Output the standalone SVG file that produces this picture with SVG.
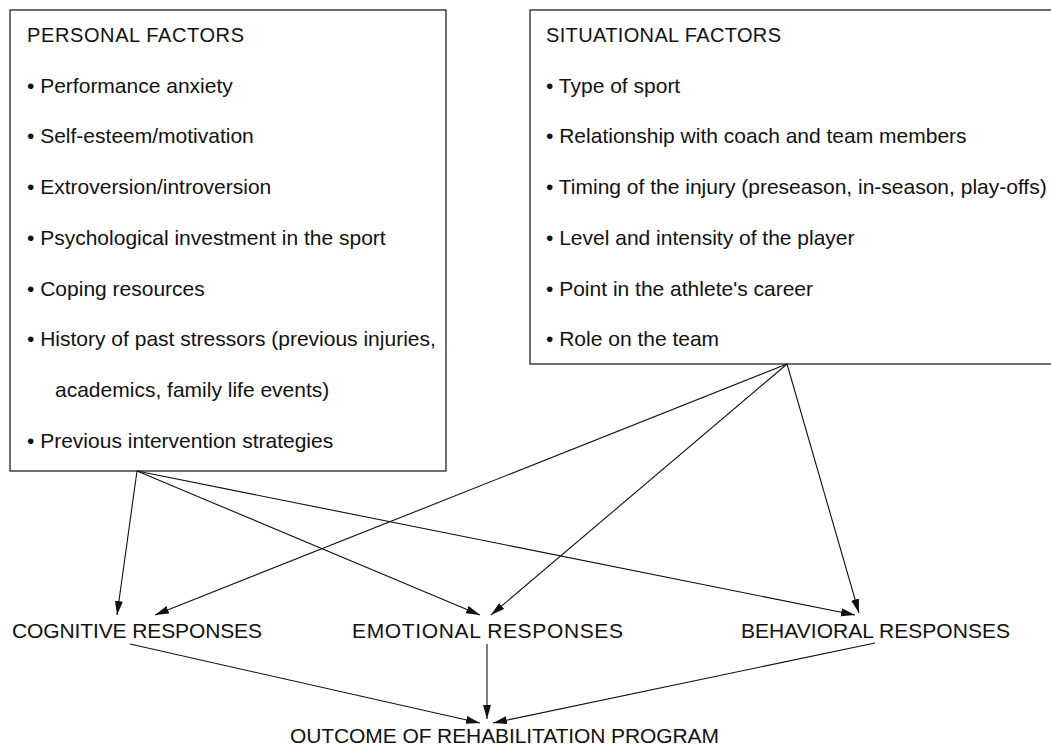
<svg xmlns="http://www.w3.org/2000/svg" width="1051" height="747" viewBox="0 0 1051 747">
<defs>
<style>
.box{fill:#fff;stroke:#222;stroke-width:1.3}
text{font-family:"Liberation Sans",Arial,sans-serif;fill:#111}
.t{font-size:20px}
.b{font-size:21px}
.l{font-size:21px}
.c{stroke:#111;stroke-width:1.1;fill:none;marker-end:url(#ah)}
</style>
<marker id="ah" markerUnits="userSpaceOnUse" markerWidth="15" markerHeight="10" refX="14" refY="4" orient="auto">
<path d="M0,0 L14,4 L0,8 Z" fill="#111"/>
</marker>
</defs>
<rect width="1051" height="747" fill="#fff"/>
<g id="personal">
<rect class="box" x="10" y="10" width="436" height="461"/>
<text class="t" x="27" y="42" textLength="217" lengthAdjust="spacing">PERSONAL FACTORS</text>
<text class="b" x="27" y="93">• Performance anxiety</text>
<text class="b" x="27" y="143">• Self-esteem/motivation</text>
<text class="b" x="27" y="194">• Extroversion/introversion</text>
<text class="b" x="27" y="245">• Psychological investment in the sport</text>
<text class="b" x="27" y="296">• Coping resources</text>
<text class="b" x="27" y="346">• History of past stressors (previous injuries,</text>
<text class="b" x="55" y="397">academics, family life events)</text>
<text class="b" x="27" y="448">• Previous intervention strategies</text>
</g>
<g id="situational">
<rect class="box" x="530" y="10" width="540" height="354"/>
<text class="t" x="546" y="42" textLength="235" lengthAdjust="spacing">SITUATIONAL FACTORS</text>
<text class="b" x="546" y="93">• Type of sport</text>
<text class="b" x="546" y="143">• Relationship with coach and team members</text>
<text class="b" x="546" y="194">• Timing of the injury (preseason, in-season, play-offs)</text>
<text class="b" x="546" y="245">• Level and intensity of the player</text>
<text class="b" x="546" y="296">• Point in the athlete's career</text>
<text class="b" x="546" y="346">• Role on the team</text>
</g>
<g id="cognitive">
<text class="l" x="12" y="638" textLength="250" lengthAdjust="spacing">COGNITIVE RESPONSES</text>
</g>
<g id="emotional">
<text class="l" x="352" y="638" textLength="271" lengthAdjust="spacing">EMOTIONAL RESPONSES</text>
</g>
<g id="behavioral">
<text class="l" x="741" y="638" textLength="269" lengthAdjust="spacing">BEHAVIORAL RESPONSES</text>
</g>
<g id="outcome">
<text class="l" x="290" y="743" textLength="429" lengthAdjust="spacing">OUTCOME OF REHABILITATION PROGRAM</text>
</g>
<g id="connectors">
<line class="c" x1="137" y1="471" x2="117" y2="615"/>
<line class="c" x1="787" y1="364" x2="155" y2="615"/>
<line class="c" x1="137" y1="471" x2="480" y2="615"/>
<line class="c" x1="787" y1="364" x2="491" y2="615"/>
<line class="c" x1="137" y1="471" x2="855" y2="615"/>
<line class="c" x1="787" y1="364" x2="859" y2="613"/>
<line class="c" x1="130" y1="644" x2="480" y2="723"/>
<line class="c" x1="487" y1="644" x2="487" y2="719"/>
<line class="c" x1="875" y1="643" x2="493" y2="723"/>
</g>
</svg>
